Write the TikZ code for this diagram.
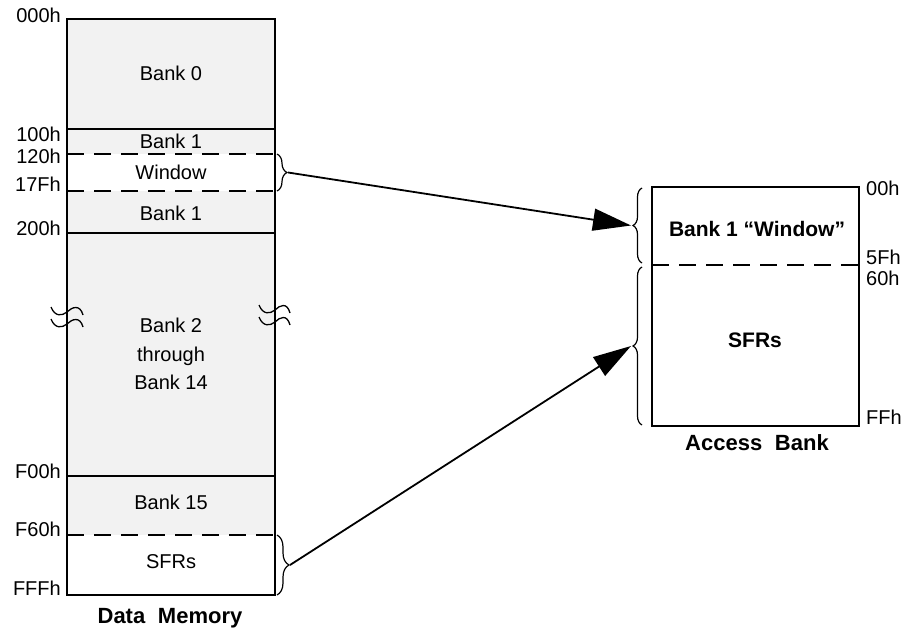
\documentclass[tikz,border=0pt]{standalone}
\usepackage{fontspec}
\setmainfont{Liberation Sans}
\usetikzlibrary{arrows.meta,decorations.pathreplacing}
\definecolor{bankgray}{HTML}{F2F2F2}
\begin{document}
\begin{tikzpicture}[x=1pt,y=-1pt,
  lbl/.style={font=\fontsize{20}{22}\selectfont, inner sep=0pt},
  addr/.style={lbl, anchor=east},
  raddr/.style={lbl, anchor=west},
  bold/.style={font=\fontsize{21}{23}\selectfont\bfseries, inner sep=0pt},
  caption/.style={font=\fontsize{22}{24}\selectfont\bfseries, inner sep=0pt},
  frame/.style={line width=1.8pt},
  sep/.style={line width=1.8pt},
  dsep/.style={line width=1.8pt, dash pattern=on 17pt off 10pt},
  bracey/.style={line width=1.2pt, decorate, decoration={brace, amplitude=#1}},
  conn/.style={line width=1.8pt, -{Triangle[length=38pt,width=22pt]}, shorten >=0pt},
  brk/.style={line width=1.3pt}]
\useasboundingbox (0,0) rectangle (915,632);

% ---- Data memory column
\fill[bankgray] (67,19) rectangle (275,154);
\fill[bankgray] (67,191) rectangle (275,535);
\draw[sep] (67,129) -- (275,129);
\draw[sep] (67,233) -- (275,233);
\draw[sep] (67,476) -- (275,476);
\draw[dsep] (67,154) -- (275,154);
\draw[dsep] (67,191) -- (275,191);
\draw[dsep] (67,535) -- (275,535);
\draw[frame] (67,19) rectangle (275,595);

\node[lbl] (b0) at (171,73) {Bank 0};
\node[lbl] (b1a) at (171,141) {Bank 1};
\node[lbl] (win) at (171,172) {Window};
\node[lbl] (b1b) at (171,213) {Bank 1};
\node[lbl, align=center, font=\fontsize{20}{28.5}\selectfont] (b2) at (171,354) {Bank 2\\through\\Bank 14};
\node[lbl] (b15) at (171,502) {Bank 15};
\node[lbl] (sfr1) at (171,562) {SFRs};

\node[addr] (a000) at (61,15) {000h};
\node[addr] (a100) at (61,134) {100h};
\node[addr] (a120) at (61,156) {120h};
\node[addr] (a17f) at (61,184) {17Fh};
\node[addr] (a200) at (61,228) {200h};
\node[addr] (af00) at (61,471) {F00h};
\node[addr] (af60) at (61,529) {F60h};
\node[addr] (afff) at (61,588) {FFFh};

\node[caption] (dm) at (170,618) {Data\hspace{0.3em} Memory};

% break marks
\draw[brk] (51,307) .. controls (55,317) and (62,316) .. (67,312) .. controls (72,307) and (80,304) .. (83,315);
\draw[brk] (51,319) .. controls (55,329) and (62,328) .. (67,324) .. controls (72,319) and (80,316) .. (83,327);
\draw[brk] (259,305) .. controls (263,315) and (270,314) .. (275,310) .. controls (280,305) and (287,302) .. (290,313);
\draw[brk] (259,317) .. controls (263,327) and (270,326) .. (275,322) .. controls (280,317) and (287,314) .. (290,325);

% ---- Access bank
\draw[frame] (652,187) rectangle (859,426);
\draw[dsep] (652,265) -- (859,265);
\node[bold] (abw) at (757,229) {Bank 1 “Window”};
\node[bold] (absfr) at (755,340) {SFRs};
\node[caption] (ab) at (757,443) {Access\hspace{0.3em} Bank};

\node[raddr] (r00) at (866,188) {00h};
\node[raddr] (r5f) at (866,257) {5Fh};
\node[raddr] (r60) at (866,278) {60h};
\node[raddr] (rff) at (866,417) {FFh};

% ---- braces
\draw[bracey=10pt] (277,154) -- (277,191);
\draw[bracey=12pt] (277,535) -- (277,595);
\draw[bracey=9pt] (642,263) -- (642,188);
\draw[bracey=9pt] (642,425) -- (642,267);
\coordinate (wtip) at (288,172.5);
\coordinate (stip) at (290,565);
\coordinate (abwtip) at (631,225.5);
\coordinate (absfrtip) at (631,346);

% ---- connectors
\draw[conn] (wtip) -- (abwtip);
\draw[conn] (stip) -- (absfrtip);
\end{tikzpicture}
\end{document}
